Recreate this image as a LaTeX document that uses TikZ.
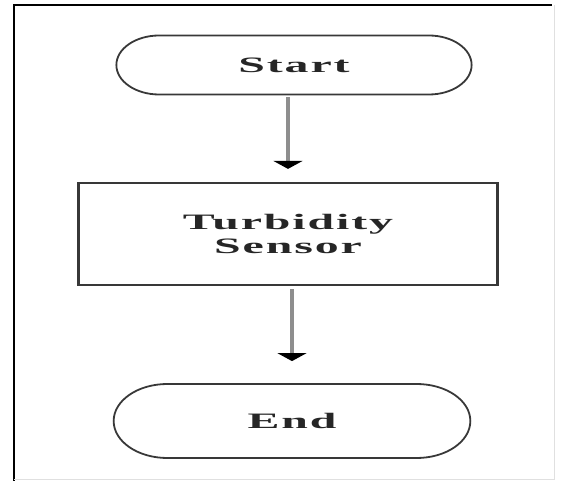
\documentclass[tikz,border=0pt]{standalone}
\usepackage{fontspec}
\setmainfont{Liberation Serif}
\newfontfamily\chartfont[LetterSpace=4]{Liberation Serif}
\usetikzlibrary{shapes.misc,arrows.meta}
\definecolor{outline}{HTML}{383838}
\definecolor{shaft}{HTML}{8E8E8E}
\definecolor{ink}{HTML}{262626}
\newcommand{\wide}[1]{\scalebox{1.5}[1]{#1}}
\tikzset{
	terminal/.style={rounded rectangle,draw=outline,line width=1.8pt,inner sep=0pt,
		xscale=1.45,transform shape,text=ink,
		font=\chartfont\bfseries\fontsize{22}{24}\selectfont},
	process/.style={rectangle,draw=outline,line width=2.2pt,inner sep=0pt,
		xscale=1.45,transform shape,text=ink,align=center,
		font=\chartfont\bfseries\fontsize{22}{24}\selectfont},
	flow/.style={draw=shaft,line width=3.5pt,-{Triangle[width=29pt,length=8pt,black]}}
}
\begin{document}
\begin{tikzpicture}[x=1pt,y=-1pt]
		\useasboundingbox (0,0) rectangle (563,481);
		% frame
		\draw [line width=1.6pt,black] (14,481) -- (14,5) -- (552,5);
		\draw [line width=0.6pt,black!12] (554,5) -- (554,479) -- (14,479);
		\coordinate (S) at (294,65);
		\coordinate (T) at (288,234);
		\coordinate (E) at (292,421);
		\node [terminal,minimum width=245pt,minimum height=59pt] (start) at (S) {\wide{Start}};
		\node [process,minimum width=289pt,minimum height=102pt] (sensor) at (T) {\wide{Turbidity}\\\wide{Sensor}};
		\node [terminal,minimum width=246pt,minimum height=74pt] (end) at (E) {\wide{End}};
		\draw [flow,shorten <=2pt,shorten >=13pt] (sensor.north |- start.south) to (sensor.north);
		\draw [flow,shorten <=3pt,shorten >=22pt] (sensor.south -| end.north) to (end.north);
	\end{tikzpicture}
\end{document}
